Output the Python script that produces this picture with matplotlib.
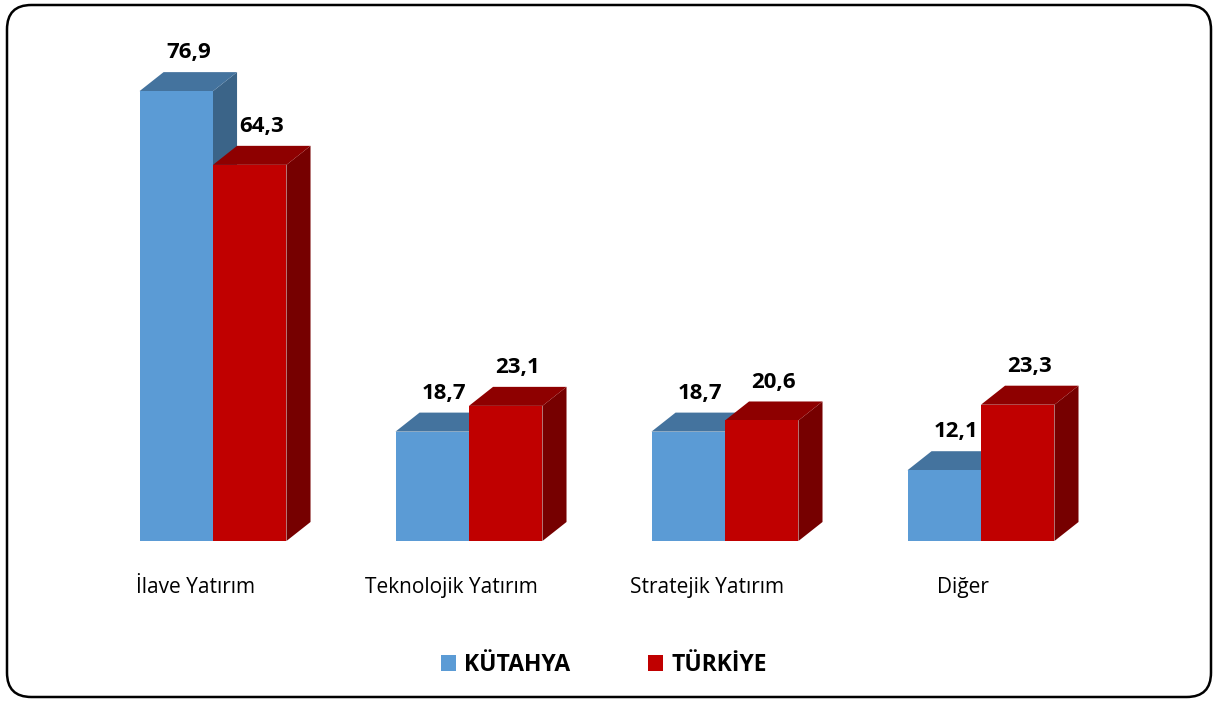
import matplotlib.pyplot as plt
from matplotlib.patches import Polygon, FancyBboxPatch, Patch

categories = ['İlave Yatırım', 'Teknolojik Yatırım', 'Stratejik Yatırım', 'Diğer']
kutahya = [76.9, 18.7, 18.7, 12.1]
turkiye = [64.3, 23.1, 20.6, 23.3]
series_names = ['KÜTAHYA', 'TÜRKİYE']

# front / top / side colours per series
colors = {
    'KÜTAHYA': ('#5B9BD5', '#44739E', '#3B6488'),
    'TÜRKİYE': ('#C00000', '#8E0000', '#760000'),
}

plt.rcParams['font.family'] = ['Open Sans', 'DejaVu Sans']

fig = plt.figure(figsize=(12.17, 7.02), dpi=100)
ax = fig.add_axes([0, 0, 1, 1])
ax.set_xlim(-0.832, 3.922)
ax.set_ylim(-27.52, 92.48)
ax.axis('off')

width = 0.287   # bar width in group units
dx = 0.094      # depth offset (x)
dy = 3.25       # depth offset (y)


def bar3d(x0, h, cols):
    front, top, side = cols
    ax.add_patch(Polygon([(x0 + width, 0), (x0 + width + dx, dy), (x0 + width + dx, h + dy), (x0 + width, h)],
                         closed=True, facecolor=side, edgecolor='none'))
    ax.add_patch(Polygon([(x0, h), (x0 + dx, h + dy), (x0 + width + dx, h + dy), (x0 + width, h)],
                         closed=True, facecolor=top, edgecolor='none'))
    ax.add_patch(Polygon([(x0, 0), (x0 + width, 0), (x0 + width, h), (x0, h)],
                         closed=True, facecolor=front, edgecolor='none'))
    ax.text(x0 + width / 2 + dx / 2, h + dy + 3.3, f'{h:.1f}'.replace('.', ','),
            ha='center', va='center', fontsize=16, fontweight='bold', color='black')


for i in range(len(categories)):
    bar3d(i - width, kutahya[i], colors['KÜTAHYA'])
    bar3d(i, turkiye[i], colors['TÜRKİYE'])
    ax.text(i - 0.07, -7.9, categories[i], ha='center', va='center', fontsize=15, color='black')

handles = [Patch(facecolor=colors[n][0], edgecolor='none', label=n) for n in series_names]
leg = fig.legend(handles=handles, loc='center', bbox_to_anchor=(604 / 1217, 1 - 665 / 702), ncol=2,
                 frameon=False, prop={'size': 16.5, 'weight': 'bold'}, handlelength=0.65, handleheight=0.65,
                 handletextpad=0.35, columnspacing=3.4)

frame = FancyBboxPatch((7 / 1217, 5 / 702), 1204 / 1217, 692 / 702,
                       boxstyle='round,pad=0,rounding_size=0.02', transform=fig.transFigure,
                       facecolor='none', edgecolor='black', linewidth=1.8, mutation_aspect=1217 / 702)
fig.patches.append(frame)

fig.savefig('out.png', dpi=100)
